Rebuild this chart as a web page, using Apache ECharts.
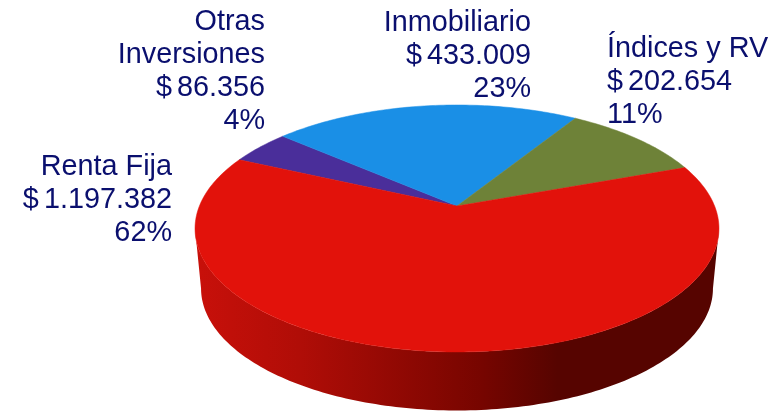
<!DOCTYPE html>
<html>
<head>
<meta charset="utf-8">
<style>html,body{margin:0;padding:0;background:#fff}#c{width:781px;height:411px}</style>
<script src="https://cdn.jsdelivr.net/npm/echarts@6/dist/echarts.min.js"></script>
</head>
<body>
<div id="c"></div>
<script>
const categories = ['Otras\nInversiones', 'Inmobiliario', 'Índices y RV', 'Renta Fija'];
const values = [86356, 433009, 202654, 1197382];

const colors = ['#4A2E9A', '#1A8FE6', '#6E8238', '#E2120B'];
const labelLayout = [
  {x: 265, y: 6, align: 'right'},
  {x: 531, y: 7, align: 'right'},
  {x: 607, y: 33, align: 'left'},
  {x: 172, y: 151, align: 'right'}
];
const total = values.reduce((a, b) => a + b, 0);
const startClock = -65.4;            // clock angle of first slice, degrees
// Perspective projection of the pie's top face
const apex = {x: 457, y: 206}, A = 257.6, B = 119.4, K = 0.182;
const wallDepth = 60, ellipseCy = 228.5, scaleX = 0.977, scaleY = 0.988;

function topRim(deg) {
  const r = deg * Math.PI / 180, u = Math.sin(r), v = Math.cos(r), w = 1 + K * v;
  return [apex.x + A * u / w, apex.y - B * v / w];
}
function bottomRim(deg) {
  const p = topRim(deg);
  return [apex.x + (p[0] - apex.x) * scaleX, ellipseCy + wallDepth + (p[1] - ellipseCy) * scaleY];
}
function arc(fn, a, b) {
  const pts = [], n = Math.max(2, Math.ceil(Math.abs(b - a)));
  for (let i = 0; i <= n; i++) pts.push(fn(a + (b - a) * i / n));
  return pts;
}

const wallGradient = {
  type: 'linear', global: true, x: 197, y: 0, x2: 712, y2: 0,
  colorStops: [
    {offset: 0, color: '#C8100A'},
    {offset: 0.2, color: '#B00D07'},
    {offset: 0.55, color: '#770500'},
    {offset: 0.7, color: '#560400'},
    {offset: 1, color: '#560400'}
  ]
};

function moneyText(v) {
  return '$' + '{s| }' + String(v).replace(/\B(?=(\d{3})+$)/g, '.');
}

function renderItem(params, api) {
  const i = params.dataIndex;
  let before = 0;
  for (let k = 0; k < i; k++) before += values[k];
  const a0 = startClock + before / total * 360;
  const a1 = a0 + api.value(0) / total * 360;
  const children = [];
  // visible front wall
  const f0 = Math.max(a0, 100.5), f1 = Math.min(a1, 259.5);
  if (f1 > f0) {
    const pts = arc(topRim, f0, f1).concat(arc(bottomRim, f1, f0));
    children.push({type: 'polygon', shape: {points: pts}, style: {fill: wallGradient}});
  }
  const face = [[apex.x, apex.y]].concat(arc(topRim, a0, a1));
  children.push({type: 'polygon', shape: {points: face},
    style: {fill: colors[i], stroke: colors[i], lineWidth: 0.5}});
  const L = labelLayout[i];
  const pct = Math.round(api.value(0) / total * 100) + '%';
  children.push({type: 'text', style: {
    text: categories[i] + '\n' + moneyText(api.value(0)) + '\n' + pct,
    x: L.x, y: L.y, align: L.align, verticalAlign: 'top',
    font: '28.8px "Liberation Sans", Arial, sans-serif', lineHeight: 33, fill: '#0A0F6E',
    rich: {s: {font: '18px "Liberation Sans", Arial, sans-serif', lineHeight: 33}}
  }});
  return {type: 'group', children: children};
}

const chart = echarts.init(document.getElementById('c'), null, {renderer: 'canvas'});
chart.setOption({
  animation: false,
  backgroundColor: '#fff',
  series: [{
    type: 'custom',
    coordinateSystem: 'none',
    renderItem: renderItem,
    clip: false,
    data: values.map(v => [v])
  }]
});
</script>
</body>
</html>
